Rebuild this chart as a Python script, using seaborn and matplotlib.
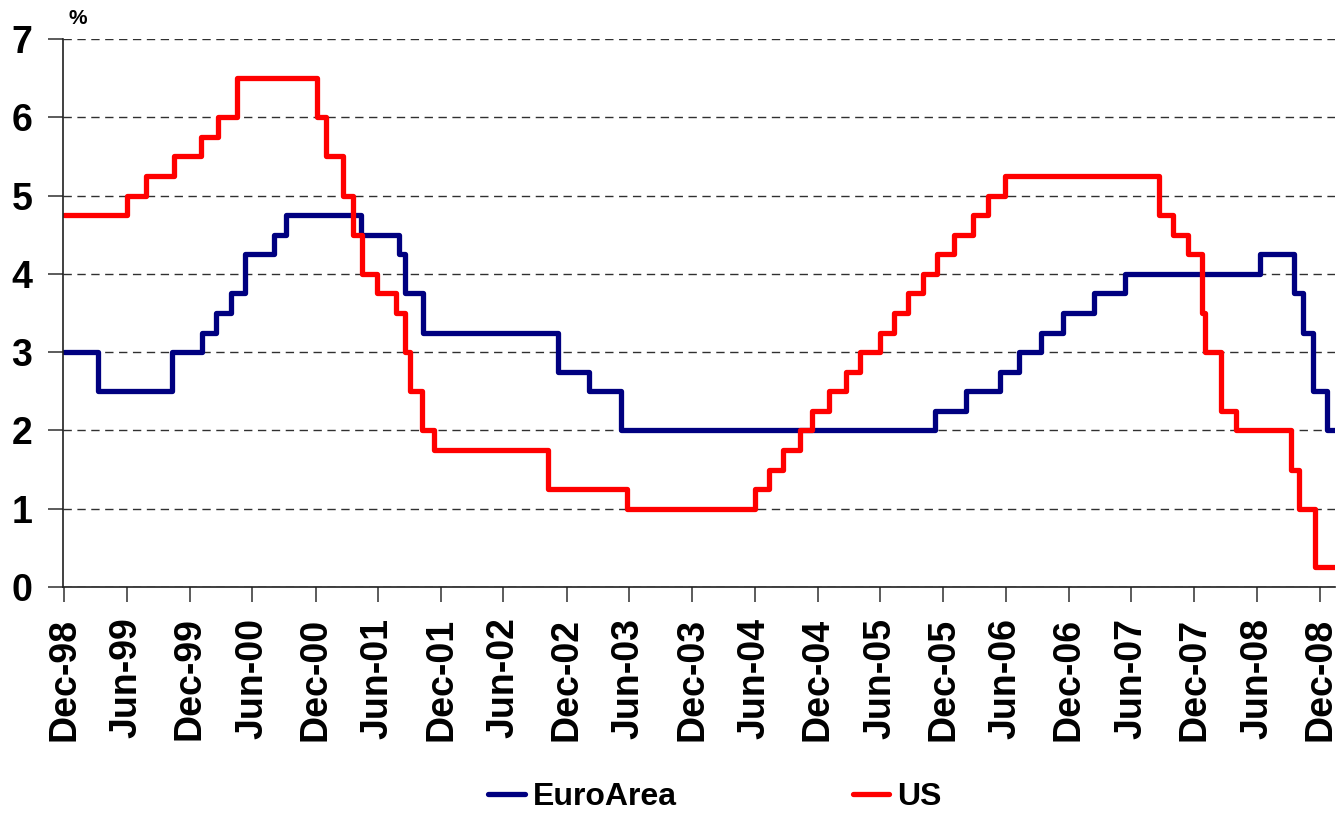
import pandas as pd
import numpy as np
import matplotlib
matplotlib.use('Agg')
import matplotlib.pyplot as plt
import matplotlib.dates as mdates
from matplotlib.lines import Line2D
import seaborn as sns

# policy rate change dates and levels (%)
euro_dates = ['1998-12-31', '1999-04-09', '1999-11-10', '2000-02-04', '2000-03-17',
              '2000-04-28', '2000-06-09', '2000-09-01', '2000-10-06', '2001-05-11',
              '2001-08-31', '2001-09-18', '2001-11-09', '2002-12-06', '2003-03-07',
              '2003-06-06', '2005-12-06', '2006-03-08', '2006-06-15', '2006-08-09',
              '2006-10-11', '2006-12-13', '2007-03-14', '2007-06-13', '2008-07-09',
              '2008-10-15', '2008-11-12', '2008-12-10', '2009-01-21', '2009-02-15']
euro_rates = [3.00, 2.50, 3.00, 3.25, 3.50,
              3.75, 4.25, 4.50, 4.75, 4.50,
              4.25, 3.75, 3.25, 2.75, 2.50,
              2.00, 2.25, 2.50, 2.75, 3.00,
              3.25, 3.50, 3.75, 4.00, 4.25,
              3.75, 3.25, 2.50, 2.00, 2.00]

us_dates = ['1998-12-31', '1999-06-30', '1999-08-24', '1999-11-16', '2000-02-02',
            '2000-03-21', '2000-05-16', '2001-01-03', '2001-01-31', '2001-03-20',
            '2001-04-18', '2001-05-15', '2001-06-27', '2001-08-21', '2001-09-17',
            '2001-10-02', '2001-11-06', '2001-12-11', '2002-11-06', '2003-06-25',
            '2004-06-30', '2004-08-10', '2004-09-21', '2004-11-10', '2004-12-14',
            '2005-02-02', '2005-03-22', '2005-05-03', '2005-06-30', '2005-08-09',
            '2005-09-20', '2005-11-01', '2005-12-13', '2006-01-31', '2006-03-28',
            '2006-05-10', '2006-06-29', '2007-09-18', '2007-10-31', '2007-12-11',
            '2008-01-22', '2008-01-30', '2008-03-18', '2008-04-30', '2008-10-08',
            '2008-10-29', '2008-12-16', '2009-02-15']
us_rates = [4.75, 5.00, 5.25, 5.50, 5.75,
            6.00, 6.50, 6.00, 5.50, 5.00,
            4.50, 4.00, 3.75, 3.50, 3.00,
            2.50, 2.00, 1.75, 1.25, 1.00,
            1.25, 1.50, 1.75, 2.00, 2.25,
            2.50, 2.75, 3.00, 3.25, 3.50,
            3.75, 4.00, 4.25, 4.50, 4.75,
            5.00, 5.25, 4.75, 4.50, 4.25,
            3.50, 3.00, 2.25, 2.00, 1.50,
            1.00, 0.25, 0.25]

series_names = ['EuroArea', 'US']
series_colors = ['#000080', '#ff0000']
y_ticks = [0, 1, 2, 3, 4, 5, 6, 7]

df = pd.concat([
    pd.DataFrame({'date': pd.to_datetime(euro_dates), 'rate': euro_rates, 'series': 'EuroArea'}),
    pd.DataFrame({'date': pd.to_datetime(us_dates), 'rate': us_rates, 'series': 'US'}),
], ignore_index=True)

sns.set_style('white')
plt.rcParams['font.family'] = ['Liberation Sans', 'DejaVu Sans']
plt.rcParams['font.weight'] = 'bold'
plt.rcParams['text.color'] = 'black'

fig = plt.figure(figsize=(13.38, 8.13), dpi=100)
ax = fig.add_axes([63 / 1338, 1 - 587 / 813, (1335 - 63) / 1338, (587 - 39) / 813])

sns.lineplot(data=df, x='date', y='rate', hue='series', hue_order=series_names,
             palette=series_colors, drawstyle='steps-post', linewidth=3.8,
             estimator=None, legend=False, ax=ax)

# ticks at month ends every 6 months
tick_dates = [pd.Timestamp(y, m, 1) + pd.offsets.MonthEnd(0)
              for y in range(1998, 2009) for m in (6, 12)
              if pd.Timestamp(y, m, 1) >= pd.Timestamp('1998-12-01')]
ax.set_xticks(tick_dates)
ax.xaxis.set_major_formatter(mdates.DateFormatter('%b-%y'))
ax.set_xlim(pd.Timestamp('1998-12-27'), pd.Timestamp('2009-02-12'))
ax.set_ylim(0, 7)
ax.set_yticks(y_ticks)

ax.yaxis.grid(True, linestyle=(0, (6, 4)), color='#303030', linewidth=1.0)
ax.xaxis.grid(False)
for s in ['top', 'right']:
    ax.spines[s].set_visible(False)
for s in ['left', 'bottom']:
    ax.spines[s].set_color('#202020')
    ax.spines[s].set_linewidth(1.2)

ax.tick_params(axis='both', direction='out', length=11, width=1.2, color='#404040',
               labelcolor='black', labelsize=27, pad=11, bottom=True, left=True)
for lab in ax.get_xticklabels():
    lab.set_rotation(90)
    lab.set_fontweight('bold')
for lab in ax.get_yticklabels():
    lab.set_fontweight('bold')
ax.set_xlabel('')
ax.set_ylabel('')

fig.text(78 / 1338, 1 - 18 / 813, '%', fontsize=15, fontweight='bold', color='black',
         ha='center', va='center')

handles = [Line2D([], [], color=c, linewidth=3.8, solid_capstyle='round') for c in series_colors]
leg = fig.legend(handles, series_names, loc='center', bbox_to_anchor=(715 / 1338, 1 - 797 / 813),
                 ncol=2, frameon=False, handlelength=1.15, handletextpad=0.25,
                 columnspacing=5.5, prop={'weight': 'bold', 'size': 23})
for t in leg.get_texts():
    t.set_color('black')

fig.savefig('out.png', dpi=100)
